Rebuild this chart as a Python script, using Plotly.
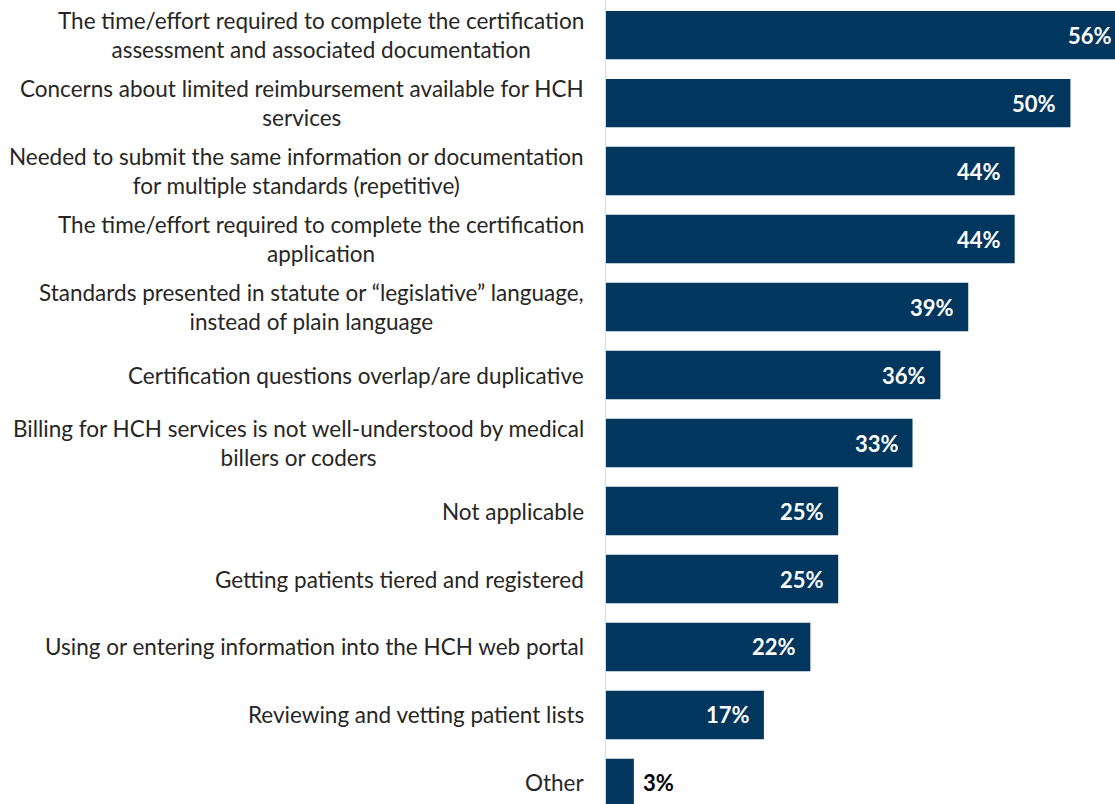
import plotly.graph_objects as go

categories = [
    "The time/effort required to complete the certification<br>assessment and associated documentation",
    "Concerns about limited reimbursement available for HCH<br>services",
    "Needed to submit the same information or documentation<br>for multiple standards (repetitive)",
    "The time/effort required to complete the certification<br>application",
    "Standards presented in statute or \u201clegislative\u201d language,<br>instead of plain language",
    "Certification questions overlap/are duplicative",
    "Billing for HCH services is not well-understood by medical<br>billers or coders",
    "Not applicable",
    "Getting patients tiered and registered",
    "Using or entering information into the HCH web portal",
    "Reviewing and vetting patient lists",
    "Other",
]
values = [56, 50, 44, 44, 39, 36, 33, 25, 25, 22, 17, 3]

BAR_COLOR = "#01365f"
FONT = "Lato"
X_MAX = 54.8  # axis range; the largest bar runs past the right edge

ids = list(range(len(categories)))

fig = go.Figure()
fig.add_trace(go.Bar(
    x=values,
    y=ids,
    orientation="h",
    marker=dict(color=BAR_COLOR, line=dict(width=0)),
    width=0.71,
    hoverinfo="skip",
))

annotations = []
for i, (cat, v) in enumerate(zip(categories, values)):
    # category label, right-aligned block with centred lines
    annotations.append(dict(
        x=0, xref="paper", y=i, yref="y",
        text=cat, showarrow=False,
        xanchor="right", yanchor="middle", align="center",
        xshift=-20,
        font=dict(family=FONT, size=22.5, color="#262626"),
    ))
    # value label at the bar end
    inside = v >= 10
    annotations.append(dict(
        x=v / X_MAX, xref="paper", y=i, yref="y",
        text=f"<b>{v}%</b>", showarrow=False,
        xanchor="right" if inside else "left",
        yanchor="middle",
        xshift=-12 if inside else 7,
        font=dict(family=FONT, size=22, color="white" if inside else "black"),
    ))

fig.update_layout(
    width=1115, height=804,
    margin=dict(l=606, r=0, t=0, b=0),
    paper_bgcolor="white", plot_bgcolor="white",
    showlegend=False,
    annotations=annotations,
    xaxis=dict(range=[0, X_MAX], visible=False, fixedrange=True),
    yaxis=dict(
        range=[11.309, -0.515],
        showticklabels=False, ticks="",
        showgrid=False, zeroline=False,
        showline=True, linecolor="#d9d9d9", linewidth=1,
        fixedrange=True,
    ),
)

fig.write_html("out.html", config={"displayModeBar": False})
